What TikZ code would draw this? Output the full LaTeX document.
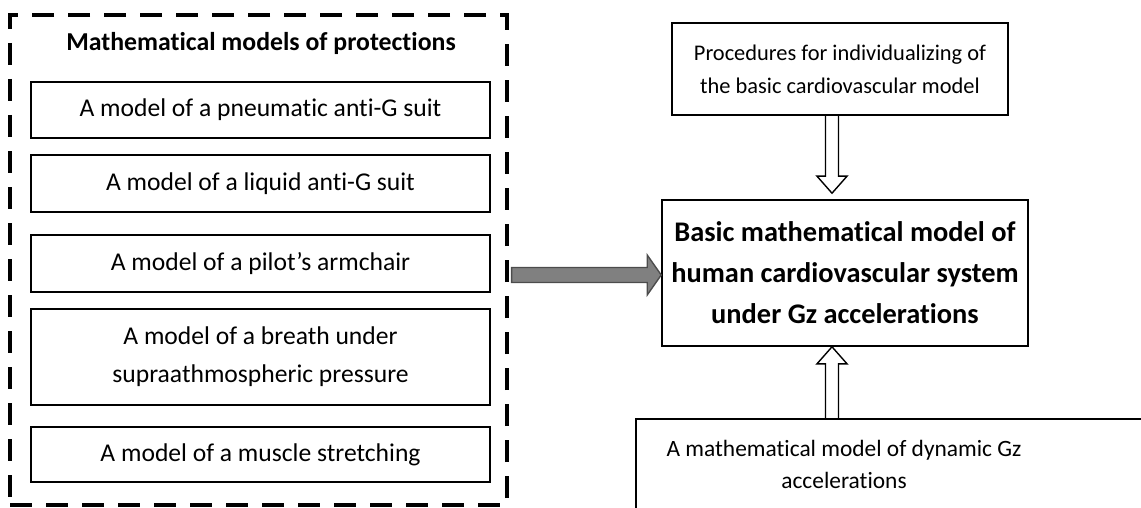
\documentclass[tikz,border=0pt]{standalone}
\usepackage{fontspec}
\setmainfont{Carlito}[Ligatures = NoCommon]
\usepackage{tikz}
\usetikzlibrary{calc}
\tikzset{>=latex}
\tikzset{
  modelbox/.style = {draw, line width = 0.8pt, align = center, minimum width = 229.5pt, inner sep = 0pt, font = \fontsize{12.8}{19}\selectfont},
  hollow/.style = {draw, line width = 0.7pt},
  grayarrow/.style = {draw = black!70, line width = 0.7pt, fill = black!50}
}

\begin{document}
\begin{tikzpicture}[x = 0.5pt, y = -0.5pt]
\useasboundingbox (0,0) rectangle (1141,508);
% left group
\node[draw, line width = 1.6pt, dash pattern = on 11pt off 7pt, minimum width = 248.5pt, minimum height = 245pt, inner sep = 0pt] (protect) at (258.5, 260) {};
\node[font = \bfseries\fontsize{12.9}{17}\selectfont] (title) at (261, 43) {Mathematical models of protections};
\node[modelbox, minimum height = 28pt] (pneum) at (260.5, 110) {A model of a pneumatic anti-G suit};
\node[modelbox, minimum height = 28.5pt] (liquid) at (260.5, 183.5) {A model of a liquid anti-G suit};
\node[modelbox, minimum height = 28.5pt] (chair) at (260.5, 263.5) {A model of a pilot’s armchair};
\node[modelbox, minimum height = 48pt] (breath) at (260.5, 357) {A model of a breath under\\supraathmospheric pressure};
\node[modelbox, minimum height = 27.5pt] (muscle) at (260.5, 454.5) {A model of a muscle stretching};
% right group
\node[modelbox, minimum width = 168pt, minimum height = 46pt, font = \fontsize{11.2}{16.5}\selectfont] (proc) at (840, 69) {Procedures for individualizing of\\the basic cardiovascular model};
\node[modelbox, minimum width = 183pt, minimum height = 73pt, font = \bfseries\fontsize{14.2}{20.5}\selectfont] (basic) at (845, 273) {Basic mathematical model of\\human cardiovascular system\\under Gz accelerations};
\node[draw, line width = 0.8pt, anchor = north west, minimum width = 300pt, minimum height = 60pt] (dynbox) at (635, 418) {};
\node[align = center, inner sep = 0pt, font = \fontsize{11.7}{16}\selectfont] (dyn) at (844, 464) {A mathematical model of dynamic Gz\\accelerations};
% arrows
\coordinate (ax) at (832, 0);
\coordinate (ay) at (0, 275);
\draw[hollow] ($(proc.south -| ax) + (-6.5, 0)$) -- ($(basic.north -| ax) + (-6.5, -23)$) -- ++(-8.5, 0) -- ($(basic.north -| ax) + (0, -6)$) -- ($(basic.north -| ax) + (15, -23)$) -- ++(-8.5, 0) -- ($(proc.south -| ax) + (6.5, 0)$);
\draw[hollow] ($(dynbox.north -| ax) + (-6.5, 0)$) -- ($(basic.south -| ax) + (-6.5, 17)$) -- ++(-8.5, 0) -- (basic.south -| ax) -- ($(basic.south -| ax) + (15, 17)$) -- ++(-8.5, 0) -- ($(dynbox.north -| ax) + (6.5, 0)$);
\draw[grayarrow] ($(protect.east |- ay) + (3, -7.5)$) -- ($(basic.west |- ay) + (-14, -7.5)$) -- ++(0, -12.5) -- (basic.west |- ay) -- ($(basic.west |- ay) + (-14, 20)$) -- ++(0, -12.5) -- ($(protect.east |- ay) + (3, 7.5)$) -- cycle;
\end{tikzpicture}
\end{document}
